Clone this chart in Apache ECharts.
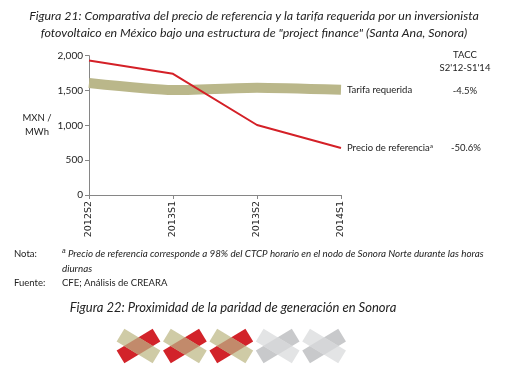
<!DOCTYPE html>
<html style="height: 100%">

<head>
	<meta charset="utf-8">
	<script src="https://cdn.jsdelivr.net/npm/echarts@6/dist/echarts.min.js"></script>
</head>

<body style="height: 100%; margin: 0; background: #fff">
	<div id="container" style="width: 508px; height: 377px"></div>
	<script type="text/javascript">
		// periods on the x axis
		let periods = ['2012S2', '2013S1', '2013S2', '2014S1'];
		// MXN / MWh
		let tarifaRequerida = [1607, 1506, 1540, 1511];
		let precioReferencia = [1930, 1740, 1005, 675];
		let yTicks = [0, 500, 1000, 1500, 2000];
		let seriesNames = ['Tarifa requerida', 'Precio de referencia'];
		let taccValues = ['-4.5%', '-50.6%'];
		// parity rating shown with the icons under Figura 22
		let ratingFilled = 3;
		let ratingTotal = 5;

		let dom = document.getElementById('container');
		let myChart = echarts.init(dom, null, { renderer: 'canvas' });

		let titleFont = 'italic 12.4px Lato, "Open Sans", sans-serif';
		let smallFont = '9.5px Lato, "Open Sans", sans-serif';

		function txt(text, x, y, font, align) {
			return {
				type: 'text',
				x: x,
				y: y,
				style: {
					text: text,
					font: font,
					fill: '#222',
					textAlign: align || 'left',
					textVerticalAlign: 'middle'
				}
			};
		}

		// one icon = two crossed bars with their overlap
		function icon(cx, cy, filled) {
			let L = 42, W = 15, th = 31 * Math.PI / 180;
			let a = filled ? '#cfcba6' : '#e3e4e5';
			let b = filled ? '#d2232a' : '#c8c9cb';
			let o = filled ? '#c28a6b' : '#d5d6d8';
			let dx = W / 2 / Math.sin(th), dy = W / 2 / Math.cos(th);
			return [
				{ type: 'rect', x: cx, y: cy, rotation: th, shape: { x: -L / 2, y: -W / 2, width: L, height: W }, style: { fill: b } },
				{ type: 'rect', x: cx, y: cy, rotation: -th, shape: { x: -L / 2, y: -W / 2, width: L, height: W }, style: { fill: a } },
				{ type: 'polygon', x: cx, y: cy, shape: { points: [[-dx, 0], [0, -dy], [dx, 0], [0, dy]] }, style: { fill: o } }
			];
		}

		let graphics = [
			txt('Figura 21: Comparativa del precio de referencia y la tarifa requerida por un inversionista', 254, 16, titleFont, 'center'),
			txt('fotovoltaico en México bajo una estructura de "project finance" (Santa Ana, Sonora)', 254, 33, titleFont, 'center'),
			txt('MXN /', 37, 118, smallFont, 'center'),
			txt('MWh', 37, 132, smallFont, 'center'),
			txt('TACC', 465, 55, smallFont, 'center'),
			txt("S2'12-S1'14", 465, 68, smallFont, 'center'),
			txt(taccValues[0], 465, 91, smallFont, 'center'),
			txt(taccValues[1], 466, 148, smallFont, 'center'),
			txt('Nota:', 14, 254, smallFont),
			{
				type: 'text', x: 62, y: 254,
				style: {
					text: '{s|a} Precio de referencia corresponde a 98% del CTCP horario en el nodo de Sonora Norte durante las horas',
					font: 'italic 9.8px Lato, "Open Sans", sans-serif', fill: '#222', textVerticalAlign: 'middle',
					rich: { s: { fontSize: 6.5, fontStyle: 'italic', verticalAlign: 'top', padding: [0, 0, 5, 0] } }
				}
			},
			txt('diurnas', 62, 269, 'italic 9.8px Lato, "Open Sans", sans-serif'),
			txt('Fuente:', 14, 283, smallFont),
			txt('CFE; Análisis de CREARA', 62, 283, smallFont),
			txt('Figura 22: Proximidad de la paridad de generación en Sonora', 233, 308, 'italic 13px Lato, "Open Sans", sans-serif', 'center')
		];
		for (let i = 0; i < ratingTotal; i++) {
			graphics = graphics.concat(icon(138.5 + 46.4 * i, 346, i < ratingFilled));
		}

		let option = {
			animation: false,
			grid: { left: 89, right: 167, top: 55.7, bottom: 182 },
			xAxis: {
				type: 'category',
				data: periods,
				boundaryGap: false,
				axisLine: { lineStyle: { color: '#868686' } },
				axisTick: { alignWithLabel: true, length: 4, lineStyle: { color: '#868686' } },
				axisLabel: { rotate: 90, color: '#222', fontSize: 9.5, fontFamily: '"DejaVu Sans", sans-serif', margin: 6 }
			},
			yAxis: {
				type: 'value',
				min: yTicks[0],
				max: yTicks[yTicks.length - 1],
				interval: 500,
				splitLine: { show: false },
				axisLine: { show: true, lineStyle: { color: '#868686' } },
				axisTick: { show: true, length: 4, lineStyle: { color: '#868686' } },
				axisLabel: {
					color: '#222', fontSize: 10, fontFamily: 'Lato, sans-serif', margin: 6,
					formatter: function (v) { return v.toLocaleString('en-US'); }
				}
			},
			series: [
				{
					name: seriesNames[0],
					type: 'line',
					data: tarifaRequerida,
					symbol: 'none',
					smooth: 0.2,
					lineStyle: { color: '#bab78a', width: 10, cap: 'butt' },
					endLabel: { show: true, formatter: seriesNames[0], color: '#222', fontSize: 9.5, fontFamily: 'Lato, sans-serif', distance: 6 }
				},
				{
					name: seriesNames[1],
					type: 'line',
					data: precioReferencia,
					symbol: 'none',
					lineStyle: { color: '#d42027', width: 2 },
					endLabel: {
						show: true, formatter: seriesNames[1] + '{s|a}', color: '#222', fontSize: 9.5, fontFamily: 'Lato, sans-serif', distance: 6,
						rich: { s: { fontSize: 6.5, verticalAlign: 'top', padding: [0, 0, 5, 0] } }
					}
				}
			],
			graphic: graphics
		};

		myChart.setOption(option);
	</script>
</body>
</html>
